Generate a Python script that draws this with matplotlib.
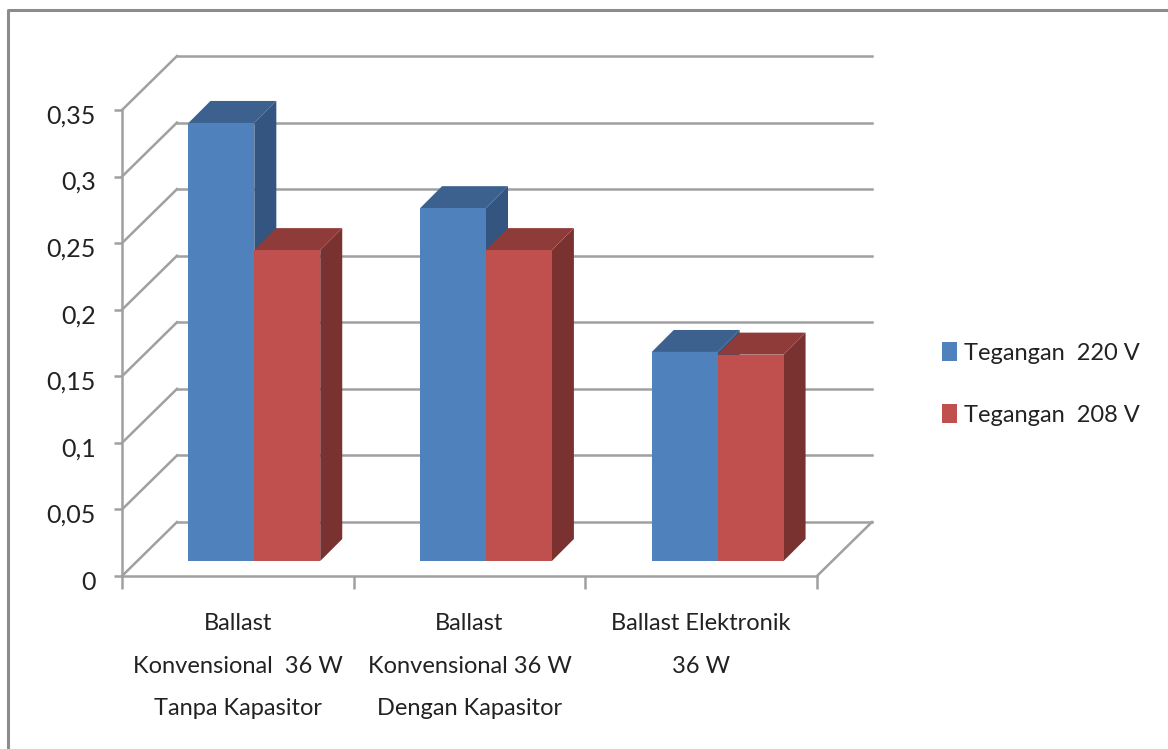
import matplotlib
matplotlib.use("Agg")
import matplotlib.pyplot as plt
from matplotlib.lines import Line2D
from matplotlib.patches import Patch, Polygon
from matplotlib.transforms import Affine2D, IdentityTransform

categories = ["Ballast\nKonvensional  36 W\nTanpa Kapasitor",
              "Ballast\nKonvensional 36 W\nDengan Kapasitor",
              "Ballast Elektronik\n36 W"]
series_names = ["Tegangan  220 V", "Tegangan  208 V"]
tegangan_220 = [0.329, 0.265, 0.157]
tegangan_208 = [0.2335, 0.2335, 0.155]
y_ticks = [0, 0.05, 0.1, 0.15, 0.2, 0.25, 0.3, 0.35]
y_labels = ["0", "0,05", "0,1", "0,15", "0,2", "0,25", "0,3", "0,35"]

W, H = 1168, 749
GRID = "#a0a0a0"
TEXT = "#222222"
colors = ["#4f81bd", "#c0504d"]
tops = ["#3c618f", "#8f3b39"]
sides = ["#335580", "#7a3230"]

plt.rcParams["font.family"] = ["Lato", "DejaVu Sans"]

fig = plt.figure(figsize=(W / 100, H / 100), dpi=100)
ax = fig.add_axes([122 / W, (H - 576) / H, (817 - 122) / W, (576 - 110) / H])
ax.set_xlim(0, 3)
ax.set_ylim(0, 0.35)
ax.patch.set_visible(False)
for s in ax.spines.values():
    s.set_visible(False)


# data position plus a depth offset in pixels, in display coords
def disp(x, y, dx=0, dy=0):
    px, py = ax.transData.transform((x, y))
    return (px + dx, py + dy)


def line(p, q, lw=1.8, z=1):
    ax.add_line(Line2D([p[0], q[0]], [p[1], q[1]], color=GRID, lw=lw,
                       transform=IdentityTransform(), zorder=z, clip_on=False))


# outer frame
fig.add_artist(Line2D([8 / W, 8 / W, 1], [0, (H - 10) / H, (H - 10) / H],
                      color="#8c8c8c", lw=2.2, transform=fig.transFigure))

# back wall and left wall
BACK = (55, 54)
for v in y_ticks:
    line(disp(0, v), disp(0, v, *BACK))
    line(disp(0, v, *BACK), disp(3, v, *BACK))
line(disp(3, 0), disp(3, 0, *BACK))
line(disp(0, 0), disp(3, 0))
line(disp(0, 0), disp(0, 0.35))

# axis ticks
ax.set_yticks(y_ticks)
ax.set_yticklabels(y_labels, fontsize=18, color=TEXT)
ax.tick_params(axis="y", length=6, width=1.8, color=GRID, pad=13)
for lab in ax.get_yticklabels():
    lab.set_transform(lab.get_transform() + Affine2D().translate(0, -4))
ax.set_xticks([0, 1, 2, 3])
ax.set_xticklabels([])
ax.tick_params(axis="x", length=9, width=1.8, color=GRID)
ax.set_xticks([0.5, 1.5, 2.5], minor=True)
ax.set_xticklabels(categories, minor=True, fontsize=17, color=TEXT, linespacing=2.24)
ax.tick_params(axis="x", which="minor", length=0, pad=27)

# bars
BAR = (16.5, 15)
DEPTH = (22, 22)
bar_w = 66.0 / (232)
shift = ax.transData + Affine2D().translate(*BAR)
for i in range(3):
    for j, vals in enumerate([tegangan_220, tegangan_208]):
        x0 = i + 0.5 - bar_w + j * bar_w
        x1 = x0 + bar_w
        v = vals[i]
        ox, oy = BAR
        dx, dy = DEPTH
        top = [disp(x0, v, ox, oy), disp(x1, v, ox, oy),
               disp(x1, v, ox + dx, oy + dy), disp(x0, v, ox + dx, oy + dy)]
        side = [disp(x1, 0, ox, oy), disp(x1, v, ox, oy),
                disp(x1, v, ox + dx, oy + dy), disp(x1, 0, ox + dx, oy + dy)]
        z = 3 + i * 3 + j * 3
        ax.add_patch(Polygon(side, closed=True, fc=sides[j], ec="none",
                             transform=IdentityTransform(), zorder=z, clip_on=False))
        ax.add_patch(Polygon(top, closed=True, fc=tops[j], ec="none",
                             transform=IdentityTransform(), zorder=z, clip_on=False))
        ax.bar(x0, v, bar_w, align="edge", color=colors[j], transform=shift,
               zorder=z + 1, clip_on=False)

# legend
handles = [Patch(fc=colors[0], ec="none", label=series_names[0]),
           Patch(fc=colors[1], ec="none", label=series_names[1])]
fig.legend(handles=handles, loc="center left",
           bbox_to_anchor=(921 / W, (H - 384) / H), frameon=False, fontsize=17,
           handlelength=0.64, handleheight=0.85, handletextpad=0.3,
           labelspacing=1.7, labelcolor=TEXT)

fig.savefig("out.png", dpi=100)
